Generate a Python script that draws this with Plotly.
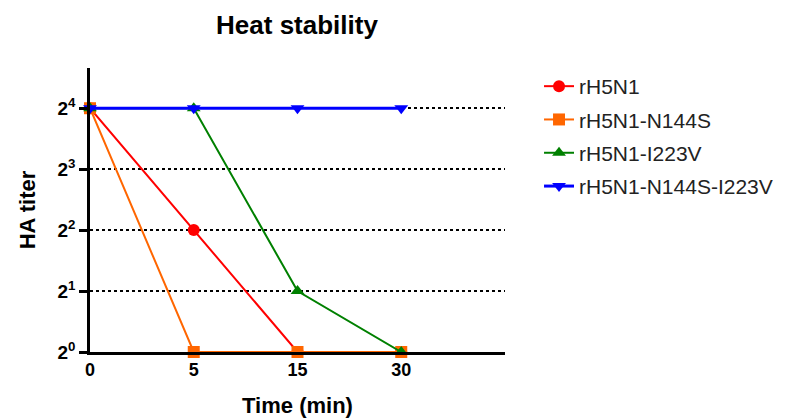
import plotly.graph_objects as go

time_labels = ["0", "5", "15", "30"]
x_pos = [0, 1, 2, 3]
series_names = ["rH5N1", "rH5N1-N144S", "rH5N1-I223V", "rH5N1-N144S-I223V"]
rH5N1 = [16, 4, 1, 1]
rH5N1_N144S = [16, 1, 1, 1]
rH5N1_I223V = [16, 16, 2, 1]
rH5N1_N144S_I223V = [16, 16, 16, 16]
y_tickvals = [1, 2, 4, 8, 16]
y_ticktext = ["2<sup>0</sup>", "2<sup>1</sup>", "2<sup>2</sup>", "2<sup>3</sup>", "2<sup>4</sup>"]

colors = ["#ff0000", "#ff6600", "#008000", "#0000ff"]
symbols = ["circle", "square", "triangle-up", "triangle-down"]
widths = [2, 2, 2, 3]
values = [rH5N1, rH5N1_N144S, rH5N1_I223V, rH5N1_N144S_I223V]

W, H = 779, 410

fig = go.Figure()
for name, vals, c, s, w in zip(series_names, values, colors, symbols, widths):
    fig.add_trace(go.Scatter(
        x=x_pos, y=vals, name=name, legendgroup=name, mode="lines+markers",
        line=dict(color=c, width=w),
        marker=dict(symbol=s, size=12, color=c),
        cliponaxis=False,
    ))

font_family = "Liberation Sans, Arial, sans-serif"
fig.update_layout(
    width=W, height=H,
    margin=dict(l=82, r=282, t=60, b=66, autoexpand=False),
    paper_bgcolor="white", plot_bgcolor="white",
    font=dict(family=font_family, color="black"),
    title=dict(text="<b>Heat stability</b>", x=289/W, xanchor="center",
               y=1 - 17/H, yanchor="middle", font=dict(size=26, color="black")),
    showlegend=True,
    legend=dict(x=1.082, xanchor="left", y=1.007, yanchor="top",
                font=dict(size=21, color="#222222"), tracegroupgap=3,
                traceorder="grouped", bgcolor="rgba(0,0,0,0)"),
    xaxis=dict(
        range=[0, 4], tickvals=x_pos, ticktext=time_labels,
        showline=True, linecolor="black", linewidth=2.5,
        showgrid=False, zeroline=False, ticks="", automargin=False,
        tickfont=dict(size=18, family=font_family, color="black", weight="bold"),
        title=dict(text="<b>Time (min)</b>", font=dict(size=22), standoff=19),
    ),
    yaxis=dict(
        type="log", range=[0, 4.66 * 0.30103],
        tickvals=y_tickvals, ticktext=y_ticktext,
        showline=True, linecolor="black", linewidth=2.5,
        ticks="outside", ticklen=8, tickwidth=2.5, tickcolor="black",
        showgrid=True, gridcolor="black", gridwidth=1.5, griddash="dot",
        zeroline=False, automargin=False,
        tickfont=dict(size=19, family=font_family, color="black", weight="bold"),
        title=dict(text="<b>HA titer</b>", font=dict(size=22), standoff=16),
    ),
)

fig.write_html("out.html")
